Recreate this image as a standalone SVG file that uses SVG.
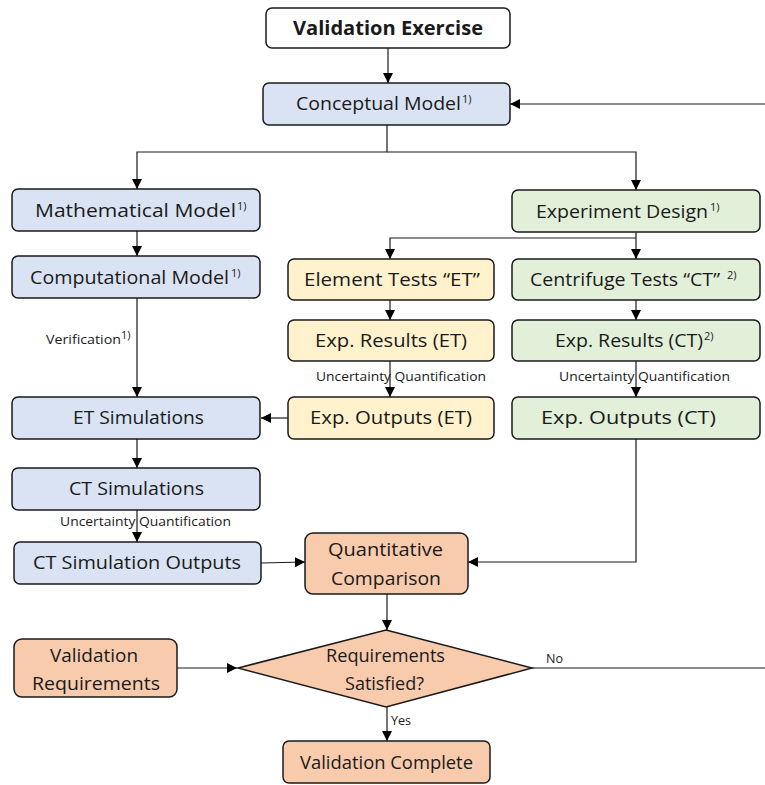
<svg xmlns="http://www.w3.org/2000/svg" width="765" height="785" viewBox="0 0 765 785">
<style>
.b{stroke:#1a1a1a;stroke-width:1.5}
.w{fill:#ffffff}.bl{fill:#dae3f3}.gr{fill:#e2f0d9}.ye{fill:#fff2cc}.or{fill:#f8cbad}
text{font-family:"Open Sans","Noto Sans",sans-serif;fill:#1a1a1a}
.t{font-size:19px}
.s{font-size:11px}
.sm{font-size:12.5px}
.c{stroke:#1a1a1a;stroke-width:1.2;fill:none}
</style>
<defs>
<marker id="ah" viewBox="0 0 10 10" refX="10" refY="5" markerWidth="10" markerHeight="10" markerUnits="userSpaceOnUse" orient="auto"><path d="M0,0 L10,5 L0,10 z" fill="#000"/></marker>
</defs>
<g id="connectors">
<path class="c" d="M388,48 V83" marker-end="url(#ah)"/>
<path class="c" d="M387,125 V152 H137 V189" marker-end="url(#ah)"/>
<path class="c" d="M387,152 H636 V190" marker-end="url(#ah)"/>
<path class="c" d="M137,231 V256" marker-end="url(#ah)"/>
<path class="c" d="M636,232 V259" marker-end="url(#ah)"/>
<path class="c" d="M636,238 H390 V259" marker-end="url(#ah)"/>
<path class="c" d="M390,300 V320" marker-end="url(#ah)"/>
<path class="c" d="M636,300 V320" marker-end="url(#ah)"/>
<path class="c" d="M390,361 V397" marker-end="url(#ah)"/>
<path class="c" d="M636,361 V397" marker-end="url(#ah)"/>
<path class="c" d="M137,298 V397" marker-end="url(#ah)"/>
<path class="c" d="M288,418 H261" marker-end="url(#ah)"/>
<path class="c" d="M137,439 V468" marker-end="url(#ah)"/>
<path class="c" d="M137,510 V542" marker-end="url(#ah)"/>
<path class="c" d="M261,563 L305,562" marker-end="url(#ah)"/>
<path class="c" d="M636,439 V562 H468" marker-end="url(#ah)"/>
<path class="c" d="M387,594 V630" marker-end="url(#ah)"/>
<path class="c" d="M177,668 H237" marker-end="url(#ah)"/>
<path class="c" d="M532,668 H767 V104 H510" marker-end="url(#ah)"/>
<path class="c" d="M387,707 V741" marker-end="url(#ah)"/>
<text class="sm" x="46" y="344" textLength="75" lengthAdjust="spacingAndGlyphs">Verification</text>
<text class="s" x="121" y="339" font-size="9.5">1)</text>
<text class="sm" x="316" y="381" textLength="170" lengthAdjust="spacingAndGlyphs">Uncertainty Quantification</text>
<text class="sm" x="559" y="381" textLength="171" lengthAdjust="spacingAndGlyphs">Uncertainty Quantification</text>
<text class="sm" x="60" y="526" textLength="171" lengthAdjust="spacingAndGlyphs">Uncertainty Quantification</text>
<text class="sm" x="546" y="663" textLength="17" lengthAdjust="spacingAndGlyphs">No</text>
<text class="sm" x="391" y="725" textLength="20" lengthAdjust="spacingAndGlyphs">Yes</text>
</g>
<g id="validation-exercise">
<rect class="b w" x="266" y="8" width="244" height="40" rx="6"/>
<text x="293" y="35" font-size="20" font-weight="bold" textLength="190" lengthAdjust="spacingAndGlyphs">Validation Exercise</text>
</g>
<g id="conceptual-model">
<rect class="b bl" x="263" y="83" width="247" height="42" rx="6"/>
<text class="t" x="296" y="110" textLength="165" lengthAdjust="spacingAndGlyphs">Conceptual Model</text>
<text class="s" x="462" y="103">1)</text>
</g>
<g id="mathematical-model">
<rect class="b bl" x="12" y="189" width="248" height="42" rx="6"/>
<text class="t" x="35" y="217" textLength="201" lengthAdjust="spacingAndGlyphs">Mathematical Model</text>
<text class="s" x="237" y="210">1)</text>
</g>
<g id="computational-model">
<rect class="b bl" x="12" y="256" width="248" height="42" rx="6"/>
<text class="t" x="30" y="284" textLength="199" lengthAdjust="spacingAndGlyphs">Computational Model</text>
<text class="s" x="231" y="277">1)</text>
</g>
<g id="experiment-design">
<rect class="b gr" x="512" y="190" width="248" height="42" rx="6"/>
<text class="t" x="536" y="218" textLength="172" lengthAdjust="spacingAndGlyphs">Experiment Design</text>
<text class="s" x="710" y="211">1)</text>
</g>
<g id="element-tests">
<rect class="b ye" x="288" y="259" width="206" height="41" rx="6"/>
<text class="t" x="304" y="286" textLength="176" lengthAdjust="spacingAndGlyphs">Element Tests “ET”</text>
</g>
<g id="centrifuge-tests">
<rect class="b gr" x="512" y="259" width="248" height="41" rx="6"/>
<text class="t" x="530" y="286" textLength="190" lengthAdjust="spacingAndGlyphs">Centrifuge Tests “CT”</text>
<text class="s" x="727" y="279">2)</text>
</g>
<g id="exp-results-et">
<rect class="b ye" x="288" y="320" width="206" height="41" rx="6"/>
<text class="t" x="315" y="347" textLength="152" lengthAdjust="spacingAndGlyphs">Exp. Results (ET)</text>
</g>
<g id="exp-results-ct">
<rect class="b gr" x="512" y="320" width="248" height="41" rx="6"/>
<text class="t" x="555" y="347" textLength="148" lengthAdjust="spacingAndGlyphs">Exp. Results (CT)</text>
<text class="s" x="704" y="340">2)</text>
</g>
<g id="exp-outputs-et">
<rect class="b ye" x="288" y="397" width="206" height="42" rx="6"/>
<text class="t" x="310" y="424" textLength="162" lengthAdjust="spacingAndGlyphs">Exp. Outputs (ET)</text>
</g>
<g id="exp-outputs-ct">
<rect class="b gr" x="512" y="397" width="248" height="42" rx="6"/>
<text class="t" x="541" y="424" textLength="175" lengthAdjust="spacingAndGlyphs">Exp. Outputs (CT)</text>
</g>
<g id="et-simulations">
<rect class="b bl" x="12" y="397" width="248" height="42" rx="6"/>
<text class="t" x="73" y="424" textLength="131" lengthAdjust="spacingAndGlyphs">ET Simulations</text>
</g>
<g id="ct-simulations">
<rect class="b bl" x="12" y="468" width="248" height="42" rx="6"/>
<text class="t" x="69" y="495" textLength="135" lengthAdjust="spacingAndGlyphs">CT Simulations</text>
</g>
<g id="ct-simulation-outputs">
<rect class="b bl" x="14" y="542" width="247" height="42" rx="6"/>
<text class="t" x="33" y="569" textLength="208" lengthAdjust="spacingAndGlyphs">CT Simulation Outputs</text>
</g>
<g id="quantitative-comparison">
<rect class="b or" x="305" y="533" width="163" height="61" rx="8"/>
<text class="t" x="328" y="556" textLength="115" lengthAdjust="spacingAndGlyphs">Quantitative</text>
<text class="t" x="331" y="585" textLength="110" lengthAdjust="spacingAndGlyphs">Comparison</text>
</g>
<g id="requirements-satisfied">
<polygon class="b or" points="386,630 532,668 386,707 238,668"/>
<text class="t" x="326" y="662" textLength="119" lengthAdjust="spacingAndGlyphs">Requirements</text>
<text class="t" x="345" y="690" textLength="79" lengthAdjust="spacingAndGlyphs">Satisfied?</text>
</g>
<g id="validation-requirements">
<rect class="b or" x="14" y="639" width="163" height="58" rx="8"/>
<text class="t" x="50" y="662" textLength="88" lengthAdjust="spacingAndGlyphs">Validation</text>
<text class="t" x="32" y="690" textLength="128" lengthAdjust="spacingAndGlyphs">Requirements</text>
</g>
<g id="validation-complete">
<rect class="b or" x="283" y="741" width="207" height="42" rx="6"/>
<text class="t" x="300" y="769" textLength="173" lengthAdjust="spacingAndGlyphs">Validation Complete</text>
</g>
</svg>
